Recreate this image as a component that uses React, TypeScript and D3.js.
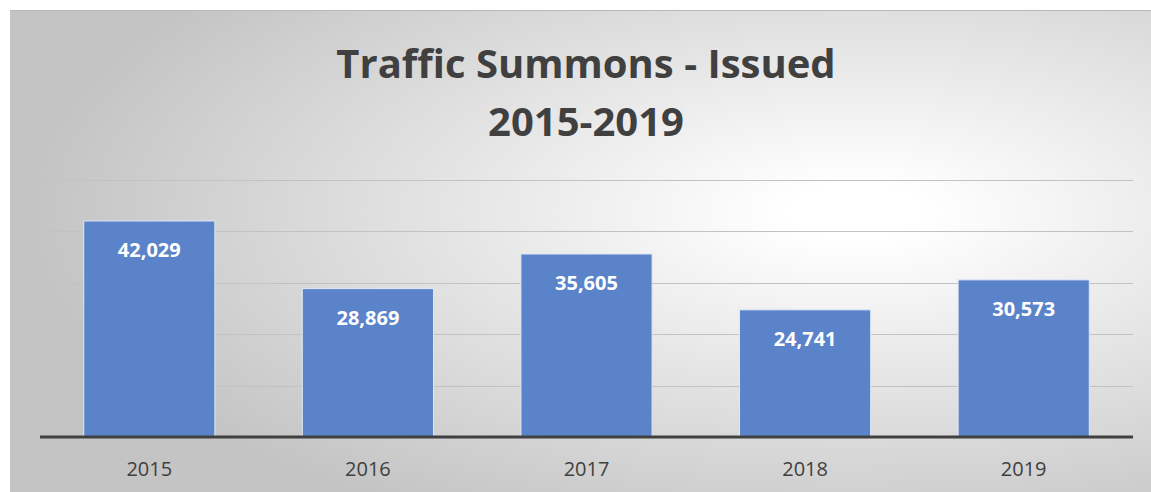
import React from 'react';
import * as d3 from 'd3';

const years = ['2015', '2016', '2017', '2018', '2019'];
const summons = [42029, 28869, 35605, 24741, 30573];
const gridTicks = [10000, 20000, 30000, 40000, 50000];
const titleLines = ['Traffic Summons - Issued', '2015-2019'];

const W = 1151;
const H = 492;
const font = '"Open Sans", "Liberation Sans", sans-serif';

export default function App() {
  const x = d3.scaleBand().domain(years).range([40, 1133]).paddingInner(0.4).paddingOuter(0.2);
  const y = d3.scaleLinear().domain([0, 50000]).range([437, 180]);
  const fmt = d3.format(',');

  return (
    <svg width={W} height={H} style={{ position: 'absolute', left: 0, top: 0 }}>
      <defs>
        <radialGradient id="bg" cx="0.74" cy="0.42" r="0.72" fx="0.74" fy="0.42">
          <stop offset="0.08" stopColor="#ffffff" />
          <stop offset="1" stopColor="#c4c4c4" />
        </radialGradient>
      </defs>
      <rect x={0} y={0} width={W} height={H} fill="#ffffff" />
      <rect x={10} y={10} width={W - 10} height={H - 10} fill="url(#bg)" />
      <line x1={10} x2={W} y1={10.5} y2={10.5} stroke="#b8b8b8" />

      {titleLines.map((t, i) => (
        <text
          key={t}
          x={586}
          y={78 + i * 58}
          textAnchor="middle"
          fontFamily={font}
          fontWeight="bold"
          fontSize={40}
          fill="#404040"
        >
          {t}
        </text>
      ))}

      {gridTicks.map((t) => (
        <line key={t} x1={40} x2={1133} y1={Math.round(y(t)) + 0.5} y2={Math.round(y(t)) + 0.5} stroke="#c2c2c2" strokeWidth={1} />
      ))}

      {years.map((yr, i) => (
        <g key={yr}>
          <rect
            x={x(yr)}
            y={y(summons[i])}
            width={x.bandwidth()}
            height={y(0) - y(summons[i])}
            fill="#5b83c9"
            stroke="#dfe8f5"
            strokeWidth={1}
          />
          <text
            x={x(yr)! + x.bandwidth() / 2}
            y={y(summons[i]) + 36}
            textAnchor="middle"
            fontFamily={font}
            fontWeight="bold"
            fontSize={20}
            fill="#ffffff"
          >
            {fmt(summons[i])}
          </text>
          <text
            x={x(yr)! + x.bandwidth() / 2}
            y={476}
            textAnchor="middle"
            fontFamily={font}
            fontSize={20}
            fill="#404040"
          >
            {yr}
          </text>
        </g>
      ))}

      <line x1={40} x2={1133} y1={y(0)} y2={y(0)} stroke="#404040" strokeWidth={3} />
    </svg>
  );
}
